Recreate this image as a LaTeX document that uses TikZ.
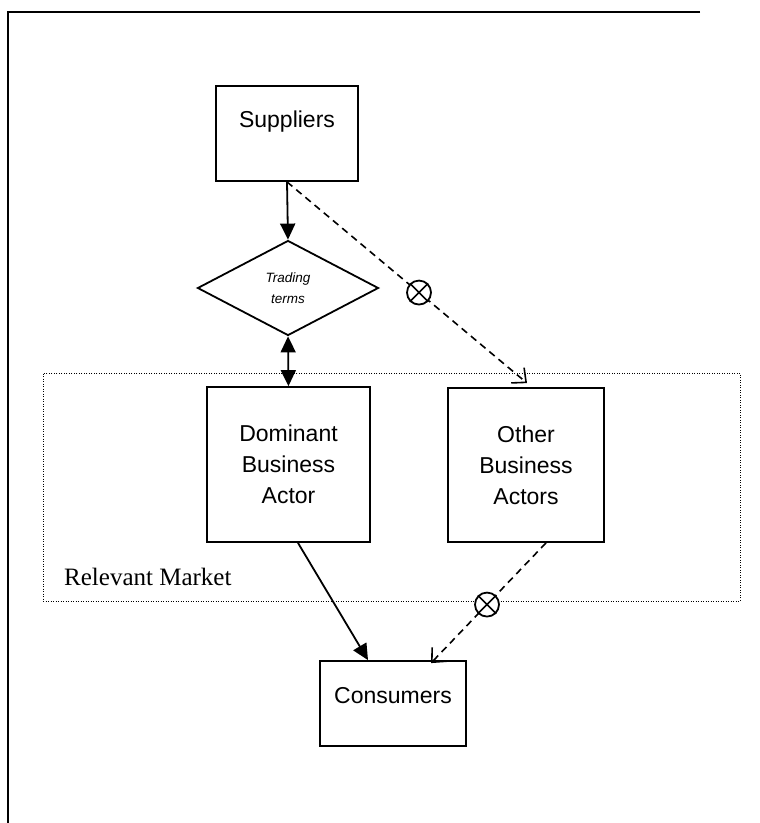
\documentclass[tikz,border=0pt]{standalone}
\usepackage{fontspec}
\setmainfont{Liberation Serif}
\setsansfont{Liberation Sans}
\usetikzlibrary{shapes.geometric,arrows.meta,calc}

\begin{document}
\begin{tikzpicture}[x=1pt,y=-1pt,
  box/.style={draw,line width=1.8pt,rectangle,inner sep=0pt,align=center,
    font=\sffamily\fontsize{23}{31}\selectfont},
  lbl/.style={font=\sffamily\fontsize{23}{31}\selectfont,align=center,inner sep=0pt},
  solidarrow/.style={line width=1.8pt,-{Triangle[length=16pt,width=15pt]}},
  dasharrow/.style={line width=1.6pt,dash pattern=on 7pt off 5pt,
    -{Straight Barb[length=11pt,width=20pt,line width=1.6pt]}},
  blocked/.style={draw,circle,fill=white,line width=1.8pt,minimum size=24pt,inner sep=0pt},
  crossline/.style={line width=1.6pt}]

\useasboundingbox (0,0) rectangle (760,823);

% outer frame: top and left sides
\draw[line width=2pt] (700,12) -- (8,12) -- (8,823);

% relevant market area
\node[draw,line width=1pt,dash pattern=on 1pt off 1.5pt,minimum width=697pt,
  minimum height=228pt,inner sep=0pt] (market) at (391.5,487) {};
\node[anchor=west,inner sep=0pt,font=\fontsize{25}{30}\selectfont] (marketlbl) at (64,577) {Relevant Market};

% actors
\node[box,minimum width=142pt,minimum height=95pt] (sup) at (287,133.5) {};
\node[lbl] (suplbl) at (287,122) {Suppliers};

\node[draw,diamond,line width=1.8pt,minimum width=181pt,minimum height=95pt,
  inner sep=0pt,aspect=2,align=center,
  font=\sffamily\itshape\fontsize{13.5}{21}\selectfont] (trade) at (288,288) {Trading\\terms};

\node[box,minimum width=163pt,minimum height=155pt] (dom) at (288.5,464.5) {Dominant\\Business\\Actor};
\node[box,minimum width=156pt,minimum height=154pt] (oth) at (526,465) {Other\\Business\\Actors};

\node[box,minimum width=146pt,minimum height=85pt] (con) at (393,703.5) {};
\node[lbl] (conlbl) at (393,696) {Consumers};

% solid flows
\draw[solidarrow] (sup.south) -- (trade.north);
\draw[line width=1.8pt,{Triangle[length=16pt,width=15pt]}-{Triangle[length=16pt,width=15pt]}]
  (trade.south) -- (dom.north);
\draw[solidarrow] ($(dom.south)+(9.5,0)$) -- ($(con.north)+(-25,0)$);

% blocked flows
\coordinate (tipA) at ($(oth.north)+(1,-4)$);
\draw[dasharrow] (sup.south) -- (tipA);
\node[blocked] (blockA) at ($(sup.south)!0.55!(tipA)$) {};
\draw[crossline] (blockA.45) -- (blockA.225) (blockA.135) -- (blockA.315);

\coordinate (tailB) at ($(oth.south)+(20,0)$);
\coordinate (tipB) at ($(con.north)+(38,3)$);
\draw[dasharrow] (tailB) -- (tipB);
\node[blocked] (blockB) at ($(tailB)!0.513!(tipB)$) {};
\draw[crossline] (blockB.45) -- (blockB.225) (blockB.135) -- (blockB.315);

\end{tikzpicture}
\end{document}
